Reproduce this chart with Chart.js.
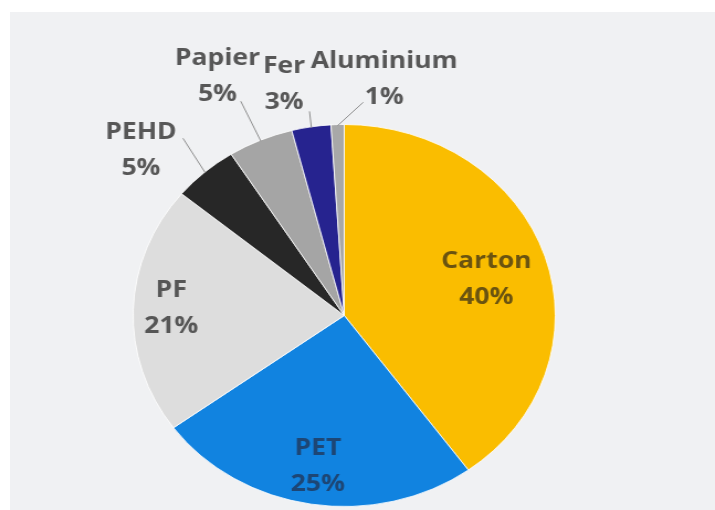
<!DOCTYPE html>
<html>
<head>
<meta charset="utf-8">
<script src="https://cdn.jsdelivr.net/npm/chart.js@4"></script>
<style>
    html, body { margin: 0; padding: 0; background: #ffffff; }
    body { width: 715px; height: 510px; position: relative; overflow: hidden; }
    #panel { position: absolute; left: 10px; top: 12px; right: 0; bottom: 0; background: #f0f1f3; }
    #pie { position: absolute; left: 0; top: 0; }
</style>
</head>
<body>
<div id="panel"></div>
<!-- drawn at 647 px wide, shown 715 px wide: the pie is a slightly wide ellipse -->
<canvas id="pie" width="647" height="510" style="width: 715px; height: 510px;"></canvas>
<script>
const categories = ['Carton', 'PET', 'PF', 'PEHD', 'Papier', 'Fer', 'Aluminium'];
const shares     = [40, 25, 21, 5, 5, 3, 1];

const slice_colors = ['#fabd00', '#1183e0', '#dddddd', '#272727', '#a5a5a5', '#26238f', '#a8a8a8'];
const text_colors  = ['#6a5310', '#1d4675', '#565656', '#575757', '#575757', '#575757', '#575757'];

// label placement: radius factor along the slice middle, then a small shift (px)
const label_radius = [0.70, 0.80, 0.82, 1.29, 1.38, 1.22, 1.24];
const label_shift  = [[1.5, 5], [0, 0], [0, -2], [-21, 19.6], [-10, 2.6], [-18, -1], [43.6, 0]];
// leader line end relative to the label centre, only for labels outside the pie
const leader_end   = [null, null, null, [38, -12], [21, 25], [23, 27], [-19, 23.5]];

const line_gap = 36;

const slice_labels = {
    id: 'slice_labels',
    afterDatasetsDraw(chart) {
        const ctx = chart.ctx;
        const arcs = chart.getDatasetMeta(0).data;

        ctx.save();
        ctx.font = 'bold 24px "Open Sans"';
        ctx.textAlign = 'center';
        ctx.textBaseline = 'middle';

        arcs.forEach(function(arc, i) {
            const p = arc.getProps(['x', 'y', 'startAngle', 'endAngle', 'outerRadius'], true);
            const mid = (p.startAngle + p.endAngle) / 2;
            const r = p.outerRadius * label_radius[i];
            const lx = p.x + Math.cos(mid) * r + label_shift[i][0];
            const ly = p.y + Math.sin(mid) * r + label_shift[i][1];

            if (leader_end[i]) {
                ctx.strokeStyle = '#8e8e8e';
                ctx.lineWidth = 1;
                ctx.beginPath();
                ctx.moveTo(p.x + Math.cos(mid) * (p.outerRadius - 1), p.y + Math.sin(mid) * (p.outerRadius - 1));
                ctx.lineTo(lx + leader_end[i][0], ly + leader_end[i][1]);
                ctx.stroke();
            }

            ctx.fillStyle = text_colors[i];
            ctx.fillText(categories[i], lx, ly - line_gap / 2);
            ctx.fillText(shares[i] + '%', lx, ly + line_gap / 2);
        });
        ctx.restore();
    }
};

const config = {
    type: 'pie',
    data: {
        labels: categories,
        datasets: [{
            data: shares,
            backgroundColor: slice_colors,
            borderColor: 'rgba(255, 255, 255, 0.8)',
            borderWidth: 1
        }]
    },
    options: {
        responsive: false,
        animation: false,
        devicePixelRatio: 1,
        layout: {
            padding: { left: 120, right: 144, top: 124, bottom: 3 }
        },
        plugins: {
            legend: { display: false },
            tooltip: { enabled: false }
        }
    },
    plugins: [slice_labels]
};

let chart = new Chart(document.getElementById('pie'), config);
</script>
</body>
</html>
